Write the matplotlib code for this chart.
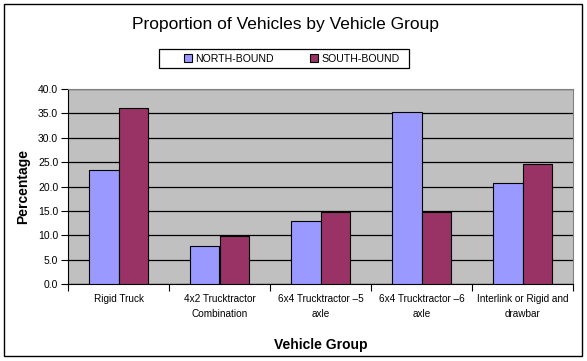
import matplotlib
matplotlib.use("Agg")
import matplotlib.pyplot as plt
from matplotlib.patches import Rectangle
import numpy as np

categories = ["Rigid Truck", "4x2 Trucktractor\nCombination", "6x4 Trucktractor \u20135\naxle",
              "6x4 Trucktractor \u20136\naxle", "Interlink or Rigid and\ndrawbar"]
north = [23.4, 7.7, 12.9, 35.3, 20.7]
south = [36.1, 9.9, 14.8, 14.8, 24.6]
series_names = ["NORTH-BOUND", "SOUTH-BOUND"]
yticks = [0, 5, 10, 15, 20, 25, 30, 35, 40]

plt.rcParams['font.family'] = ['Liberation Sans', 'DejaVu Sans']

W, H = 587, 361
fig = plt.figure(figsize=(W/100, H/100), dpi=100)
fig.patch.set_facecolor('white')

# outer border
fig.add_artist(Rectangle((4/W, 1 - 356/H), 578/W, 352/H, transform=fig.transFigure,
                         fill=False, edgecolor='black', linewidth=1.0))
# legend frame
fig.add_artist(Rectangle((159/W, 1 - 68/H), 250/W, 19/H, transform=fig.transFigure,
                         fill=False, edgecolor='black', linewidth=0.9))

ax = fig.add_axes([68/W, 1 - 284/H, (573-68)/W, (284-89)/H])
ax.set_facecolor('#C0C0C0')
x = np.arange(len(categories))
bw = 0.29
b1 = ax.bar(x - bw/2, north, bw, color='#9999FF', edgecolor='black', linewidth=0.8, zorder=3, label=series_names[0])
b2 = ax.bar(x + bw/2, south, bw, color='#993366', edgecolor='black', linewidth=0.8, zorder=3, label=series_names[1])

ax.set_xlim(-0.5, len(categories) - 0.5)
ax.set_ylim(0, 40)
ax.set_yticks(yticks)
ax.set_yticklabels([f"{v:.1f}" for v in yticks], fontsize=7.5)
ax.yaxis.grid(True, color='black', linewidth=0.9, zorder=1)
ax.set_axisbelow(True)

ax.set_xticks(np.arange(len(categories) + 1) - 0.5)
ax.set_xticklabels([])
ax.set_xticks(x, minor=True)
ax.set_xticklabels(categories, minor=True, fontsize=7.2, linespacing=1.6)
ax.tick_params(axis='x', which='minor', length=0, pad=7)
ax.tick_params(axis='x', which='major', length=5, direction='out', width=0.8)
ax.tick_params(axis='y', length=5, direction='out', width=0.8, pad=2)

for s in ['top', 'right']:
    ax.spines[s].set_color('#808080')
    ax.spines[s].set_linewidth(0.8)
ax.spines['left'].set_color('black')
ax.spines['bottom'].set_color('black')

ax.set_ylabel("Percentage", fontsize=10, fontweight='bold', labelpad=6)
fig.text(0.5*(68+573)/W, 1 - 345/H, "Vehicle Group", ha='center', va='center', fontsize=10, fontweight='bold')
fig.text(286/W, 1 - 25/H, "Proportion of Vehicles by Vehicle Group",
         ha='center', va='center', fontsize=12.5)

leg = fig.legend(handles=[b1, b2], loc='center left', bbox_to_anchor=(176/W, 1 - 58.5/H), ncol=2,
                 fontsize=7.6, frameon=False, handlelength=0.75,
                 handleheight=0.75, columnspacing=3.4, handletextpad=0.3, borderpad=0.3)

fig.savefig("out.png", dpi=100)
